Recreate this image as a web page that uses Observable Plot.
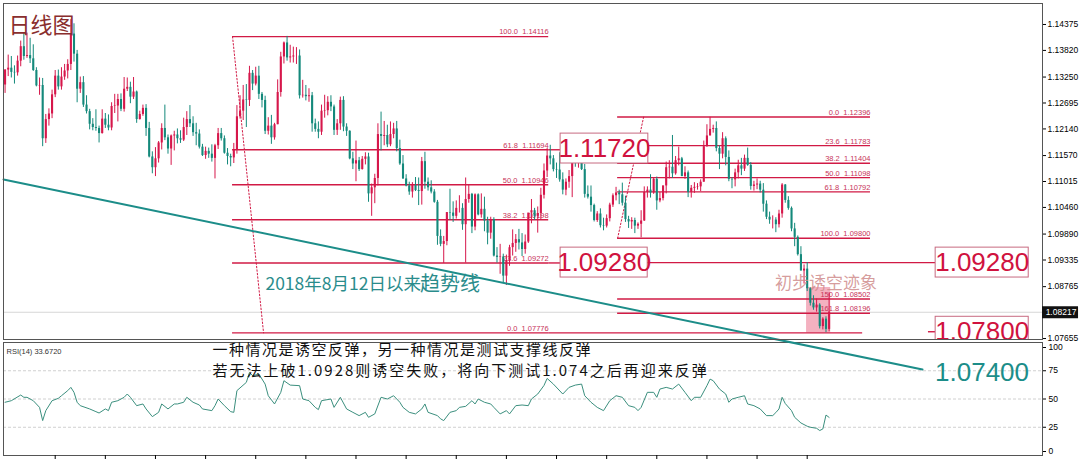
<!DOCTYPE html>
<html><head><meta charset="utf-8">
<script src="https://cdn.jsdelivr.net/npm/d3@7"></script>
<script src="https://cdn.jsdelivr.net/npm/@observablehq/plot@0.6"></script>
<style>
body{margin:0;background:#fff;}
#wrap{position:relative;width:1080px;height:459px;overflow:hidden;background:#fff;}
#wrap svg{position:absolute;left:0;}
</style></head><body><div id="wrap"></div>
<script>
// EUR/USD daily bars, 2019-02-19 .. 2020-02-21 (bar index = trading day)
const open = [1.1308,1.1340,1.1344,1.1335,1.1334,1.1359,1.1390,1.1369,1.1371,1.1364,
1.1339,1.1306,1.1307,1.1193,1.1234,1.1246,1.1287,1.1327,1.1304,1.1325,
1.1338,1.1352,1.1417,1.1374,1.1299,1.1313,1.1265,1.1251,1.1224,1.1217,
1.1215,1.1204,1.1235,1.1222,1.1216,1.1262,1.1263,1.1277,1.1256,1.1299,
1.1303,1.1282,1.1293,1.1234,1.1245,1.1258,1.1215,1.1154,1.1131,1.1150,
1.1184,1.1215,1.1195,1.1171,1.1199,1.1201,1.1193,1.1190,1.1217,1.1234,
1.1225,1.1206,1.1203,1.1175,1.1157,1.1166,1.1160,1.1151,1.1178,1.1204,
1.1193,1.1162,1.1155,1.1152,1.1168,1.1240,1.1252,1.1276,1.1275,1.1333,
1.1310,1.1327,1.1288,1.1275,1.1209,1.1220,1.1195,1.1223,1.1292,1.1368,
1.1398,1.1366,1.1368,1.1370,1.1370,1.1285,1.1286,1.1283,1.1285,1.1225,
1.1213,1.1207,1.1252,1.1253,1.1271,1.1261,1.1211,1.1225,1.1275,1.1218,
1.1209,1.1150,1.1139,1.1146,1.1127,1.1149,1.1154,1.1075,1.1088,1.1108,
1.1202,1.1198,1.1200,1.1180,1.1202,1.1214,1.1172,1.1139,1.1107,1.1092,
1.1079,1.1093,1.1082,1.1080,1.1144,1.1100,1.1088,1.1079,1.1057,1.0984,
1.0967,1.0973,1.1035,1.1034,1.1027,1.1044,1.1044,1.1009,1.1063,1.1074,
1.1004,1.1073,1.1030,1.1042,1.1017,1.0991,1.1020,1.0942,1.0939,1.0940,
1.0899,1.0932,1.0960,1.0969,1.0977,1.0970,1.0956,1.0972,1.1034,1.1039,
1.1027,1.1033,1.1072,1.1124,1.1156,1.1150,1.1127,1.1126,1.1105,1.1083,
1.1100,1.1112,1.1153,1.1149,1.1165,1.1127,1.1074,1.1068,1.1050,1.1018,
1.1032,1.1007,1.1006,1.1022,1.1051,1.1071,1.1077,1.1073,1.1055,1.1020,
1.1015,1.1018,1.1006,1.1010,1.1017,1.1078,1.1083,1.1077,1.1106,1.1060,
1.1065,1.1092,1.1131,1.1132,1.1118,1.1146,1.1150,1.1112,1.1120,1.1078,
1.1087,1.1089,1.1090,1.1100,1.1176,1.1199,1.1213,1.1215,1.1172,1.1160,
1.1193,1.1153,1.1106,1.1105,1.1120,1.1135,1.1128,1.1151,1.1136,1.1091,
1.1094,1.1096,1.1083,1.1053,1.1025,1.1019,1.1019,1.1009,1.1032,1.1094,
1.1061,1.1044,1.1000,1.0982,1.0945,1.0910,1.0914,1.0872,1.0841,1.0831,
1.0837,1.0791,1.0807,1.0785];
const high = [1.1341,1.1372,1.1369,1.1349,1.1370,1.1402,1.1420,1.1419,1.1408,1.1394,
1.1345,1.1323,1.1322,1.1245,1.1257,1.1297,1.1339,1.1340,1.1345,1.1352,
1.1362,1.1448,1.1439,1.1382,1.1325,1.1326,1.1285,1.1256,1.1236,1.1255,
1.1220,1.1255,1.1247,1.1244,1.1270,1.1288,1.1288,1.1289,1.1324,1.1323,
1.1314,1.1324,1.1295,1.1252,1.1265,1.1266,1.1228,1.1165,1.1174,1.1187,
1.1225,1.1265,1.1201,1.1201,1.1209,1.1214,1.1210,1.1237,1.1251,1.1264,
1.1240,1.1226,1.1212,1.1181,1.1175,1.1173,1.1180,1.1181,1.1215,1.1215,
1.1199,1.1172,1.1160,1.1183,1.1264,1.1285,1.1307,1.1309,1.1348,1.1339,
1.1346,1.1348,1.1292,1.1284,1.1238,1.1243,1.1226,1.1319,1.1378,1.1400,
1.1412,1.1393,1.1389,1.1388,1.1383,1.1318,1.1307,1.1300,1.1292,1.1235,
1.1229,1.1265,1.1286,1.1283,1.1285,1.1265,1.1234,1.1282,1.1283,1.1225,
1.1210,1.1164,1.1188,1.1153,1.1155,1.1163,1.1162,1.1096,1.1117,1.1225,
1.1250,1.1230,1.1222,1.1229,1.1226,1.1230,1.1190,1.1157,1.1116,1.1100,
1.1099,1.1110,1.1109,1.1153,1.1164,1.1109,1.1103,1.1084,1.1061,1.0998,
1.0984,1.1035,1.1085,1.1058,1.1060,1.1071,1.1054,1.1109,1.1095,1.1076,
1.1075,1.1075,1.1075,1.1068,1.1025,1.1025,1.1024,1.0960,1.0967,1.0946,
1.0944,1.0965,1.0998,1.0988,1.0999,1.0990,1.0987,1.1033,1.1063,1.1044,
1.1047,1.1087,1.1139,1.1172,1.1179,1.1157,1.1141,1.1163,1.1120,1.1107,
1.1125,1.1145,1.1168,1.1176,1.1175,1.1138,1.1092,1.1092,1.1053,1.1037,
1.1043,1.1023,1.1030,1.1055,1.1075,1.1089,1.1083,1.1098,1.1070,1.1027,
1.1024,1.1023,1.1013,1.1039,1.1090,1.1090,1.1116,1.1110,1.1111,1.1078,
1.1092,1.1143,1.1146,1.1200,1.1155,1.1175,1.1153,1.1133,1.1124,1.1093,
1.1099,1.1097,1.1105,1.1188,1.1223,1.1239,1.1222,1.1229,1.1178,1.1206,
1.1197,1.1167,1.1110,1.1128,1.1147,1.1151,1.1158,1.1173,1.1142,1.1102,
1.1107,1.1102,1.1097,1.1060,1.1036,1.1028,1.1024,1.1040,1.1097,1.1095,
1.1069,1.1047,1.1012,1.0985,1.0962,1.0923,1.0928,1.0874,1.0857,1.0850,
1.0840,1.0810,1.0812,1.0863];
const low = [1.1290,1.1326,1.1323,1.1310,1.1327,1.1347,1.1361,1.1365,1.1354,1.1337,
1.1304,1.1286,1.1176,1.1183,1.1220,1.1236,1.1281,1.1297,1.1297,1.1318,
1.1321,1.1339,1.1357,1.1270,1.1290,1.1260,1.1246,1.1212,1.1210,1.1209,
1.1184,1.1203,1.1215,1.1210,1.1210,1.1247,1.1229,1.1251,1.1250,1.1294,
1.1268,1.1277,1.1226,1.1233,1.1241,1.1198,1.1152,1.1118,1.1112,1.1141,
1.1169,1.1189,1.1160,1.1136,1.1167,1.1182,1.1183,1.1187,1.1200,1.1217,
1.1198,1.1178,1.1171,1.1155,1.1149,1.1151,1.1143,1.1107,1.1170,1.1188,
1.1160,1.1137,1.1133,1.1140,1.1160,1.1235,1.1232,1.1217,1.1262,1.1296,
1.1306,1.1277,1.1259,1.1202,1.1201,1.1181,1.1190,1.1223,1.1282,1.1353,
1.1359,1.1355,1.1355,1.1352,1.1278,1.1280,1.1274,1.1271,1.1207,1.1207,
1.1193,1.1200,1.1237,1.1242,1.1251,1.1200,1.1200,1.1211,1.1208,1.1198,
1.1148,1.1127,1.1101,1.1123,1.1126,1.1137,1.1057,1.1027,1.1054,1.1092,
1.1167,1.1178,1.1174,1.1176,1.1193,1.1165,1.1136,1.1106,1.1090,1.1072,
1.1066,1.1080,1.1050,1.1051,1.1085,1.1081,1.1075,1.1055,1.0965,1.0962,
1.0926,1.0964,1.1018,1.1014,1.1021,1.1034,1.0997,1.0927,1.1055,1.0990,
1.0996,1.1028,1.1023,1.0994,1.0966,1.0978,1.0940,1.0927,1.0903,1.0885,
1.0879,1.0920,1.0942,1.0950,1.0955,1.0941,1.0946,1.0969,1.1011,1.1018,
1.0991,1.1020,1.1064,1.1110,1.1137,1.1122,1.1108,1.1100,1.1073,1.1071,
1.1087,1.1067,1.1132,1.1130,1.1125,1.1066,1.1064,1.1036,1.1015,1.1014,
1.1002,1.0996,1.1002,1.1015,1.1046,1.1060,1.1052,1.1049,1.1014,1.1001,
1.0999,1.0990,1.0999,1.0981,1.1016,1.1066,1.1066,1.1074,1.1040,1.1056,
1.1060,1.1075,1.1107,1.1108,1.1115,1.1135,1.1112,1.1106,1.1067,1.1066,
1.1076,1.1083,1.1080,1.1100,1.1175,1.1199,1.1205,1.1165,1.1127,1.1150,
1.1135,1.1101,1.1086,1.1090,1.1107,1.1114,1.1123,1.1134,1.1083,1.1081,
1.1084,1.1077,1.1036,1.1020,1.1010,1.1000,1.0992,1.1002,1.1023,1.1055,
1.1040,1.0994,1.0962,1.0942,1.0910,1.0882,1.0866,1.0835,1.0826,1.0822,
1.0786,1.0784,1.0778,1.0780];
const close = [1.1340,1.1344,1.1335,1.1334,1.1359,1.1390,1.1369,1.1371,1.1364,1.1339,
1.1306,1.1307,1.1193,1.1234,1.1246,1.1287,1.1327,1.1304,1.1325,1.1338,
1.1352,1.1417,1.1374,1.1299,1.1313,1.1265,1.1251,1.1224,1.1217,1.1215,
1.1204,1.1235,1.1222,1.1216,1.1262,1.1263,1.1277,1.1256,1.1299,1.1303,
1.1282,1.1293,1.1234,1.1245,1.1258,1.1215,1.1154,1.1131,1.1150,1.1184,
1.1215,1.1195,1.1171,1.1199,1.1201,1.1193,1.1190,1.1217,1.1234,1.1225,
1.1206,1.1203,1.1175,1.1157,1.1166,1.1160,1.1151,1.1178,1.1204,1.1193,
1.1162,1.1155,1.1152,1.1168,1.1240,1.1252,1.1276,1.1275,1.1333,1.1310,
1.1327,1.1288,1.1275,1.1209,1.1220,1.1195,1.1223,1.1292,1.1368,1.1398,
1.1366,1.1368,1.1370,1.1370,1.1285,1.1286,1.1283,1.1285,1.1225,1.1213,
1.1207,1.1252,1.1253,1.1271,1.1261,1.1211,1.1225,1.1275,1.1218,1.1209,
1.1150,1.1139,1.1146,1.1127,1.1149,1.1154,1.1075,1.1088,1.1108,1.1202,
1.1198,1.1200,1.1180,1.1202,1.1214,1.1172,1.1139,1.1107,1.1092,1.1079,
1.1093,1.1082,1.1080,1.1144,1.1100,1.1088,1.1079,1.1057,1.0984,1.0967,
1.0973,1.1035,1.1034,1.1027,1.1044,1.1044,1.1009,1.1063,1.1074,1.1004,
1.1073,1.1030,1.1042,1.1017,1.0991,1.1020,1.0942,1.0939,1.0940,1.0899,
1.0932,1.0960,1.0969,1.0977,1.0970,1.0956,1.0972,1.1034,1.1039,1.1027,
1.1033,1.1072,1.1124,1.1156,1.1150,1.1127,1.1126,1.1105,1.1083,1.1100,
1.1112,1.1153,1.1149,1.1165,1.1127,1.1074,1.1068,1.1050,1.1018,1.1032,
1.1007,1.1006,1.1022,1.1051,1.1071,1.1077,1.1073,1.1055,1.1020,1.1015,
1.1018,1.1006,1.1010,1.1017,1.1078,1.1083,1.1077,1.1106,1.1060,1.1065,
1.1092,1.1131,1.1132,1.1118,1.1146,1.1150,1.1112,1.1120,1.1078,1.1087,
1.1089,1.1090,1.1100,1.1176,1.1199,1.1213,1.1215,1.1172,1.1160,1.1193,
1.1153,1.1106,1.1105,1.1120,1.1135,1.1128,1.1151,1.1136,1.1091,1.1094,
1.1096,1.1083,1.1053,1.1025,1.1019,1.1019,1.1009,1.1032,1.1094,1.1061,
1.1044,1.1000,1.0982,1.0945,1.0910,1.0914,1.0872,1.0841,1.0831,1.0837,
1.0791,1.0807,1.0785,1.0822];

// RSI(14) (bar index, value)
const rsiBar = [0,2,5,6,7,9,11,12,13,15,17,18,20,21,22,23,24,27,29,30,32,33,34,36,38,39,40,42,44,45,47,49,50,52,54,55,57,58,60,62,63,66,67,68,70,72,73,74,77,78,79,81,83,84,86,88,89,91,94,95,97,99,100,101,104,105,107,109,111,113,115,116,118,120,122,124,126,127,129,131,133,134,135,138,139,140,142,144,145,147,149,150,151,153,155,156,158,160,161,163,165,167,168,170,172,173,175,178,180,182,184,185,187,189,191,193,195,197,199,201,202,203,205,207,208,209,211,213,215,217,219,220,222,224,225,226,228,230,231,232,234,236,237,239,241,243,245,246,247,248,249,251,252,254,256,257,259,260,261,262,263];
const rsiValue = [47.1,48.5,53.5,51.5,51.5,48.5,42.6,30.9,39.7,48.5,50.6,52.9,57.4,60.3,55.9,47.1,44.1,41.2,38.8,37.6,41.2,39.7,47.1,48.5,51.5,54.4,51.5,44.1,45.6,41.2,34.4,38.2,45.6,41.2,45.6,45.6,47.1,51.5,47.1,44.7,41.2,39.7,44.1,50,44.1,38.8,38.2,57.4,64.7,73.5,70.6,72.1,63.2,52.9,45.6,55.9,66.2,62.3,61.8,50,48.5,42.6,40.6,48.5,50,42.6,51.5,41.2,38.2,35.3,38.2,33.8,36.8,51.5,50,52.9,47.1,42.6,38.2,36.8,41.2,45.6,38.2,35.3,32.4,30.9,38.2,39.7,42.6,43.5,48.5,45.6,50,47.1,45.6,42.6,36.8,39.7,36.8,44.1,44.7,44.1,50,54.4,62,68.2,63.2,54.4,60.3,62.3,63.2,52.9,47.1,42.6,39.7,48.5,52.9,51.5,44.1,42.6,39.7,42.6,55.9,55.9,51.5,58.8,60.3,58.8,63.2,55.9,48.5,51.5,51.5,61.8,67.6,66.2,58.8,54.4,47.1,50,51.5,52.9,45.6,44.1,41.2,35.3,35.3,38,41.2,51.5,46,39.7,33.8,28.8,25.9,25,24.1,22.1,23.5,35.8,33.7];

const priceTicks = [1.14375,1.13820,1.13250,1.12695,1.12140,1.11570,1.11015,1.10460,1.09890,1.09335,1.08765,1.07655];
const rsiTicksMid = [25,50,75];
const rsiTickTop = [100];
const rsiTickBottom = [0];
const rsiGuides = [25,50,75];
const timeTickBars = [16,32,48,64,80,96,112,128,144,160,176,192,208,224,240,256];
const lastPrice = 1.08217;
const rsiLast = "33.6720";

const fib1Levels = [0,23.6,38.2,50,61.8,100];
const fib1Prices = [1.07776,1.09272,1.10198,1.10946,1.11694,1.14116];
const fib2Levels = [0,23.6,38.2,50,61.8,100,150,161.8];
const fib2Prices = [1.12396,1.11783,1.11404,1.11098,1.10792,1.09800,1.08502,1.08196];
const keyLevelTexts = ["1.11720","1.09280","1.09280","1.07800"];
const keyLevelPrices = [1.11720,1.09280,1.09280,1.07800];
const trendBars = [-0.5,292.8];
const trendPrices = [1.1106,1.0699];
const trendTargetText = "1.07400";
const note1 = "一种情况是诱空反弹，另一种情况是测试支撑线反弹";
const note2 = "若无法上破1.0928则诱空失败，将向下测试1.074之后再迎来反弹";

// ---- annotation placement (bar units) ----
const F1 = {from:72.6, to:173.5, boxEdge:177.3, diagTop:72.6, diagBot:82.5};
const F2 = {from:195.5, to:276.2, diagLow:195.5, diagHigh:203.8};
const boxX = [[177.3,205.3],[177.3,205.1],[297,326.7],[297,326.7]];
const boxHalf = 0.0032;

const bull = "#d6174b", bear = "#14897b", red = "#d11a45", teal = "#1c8d89";
const cjk = "Noto Sans CJK SC, sans-serif";

const candles = close.map((c,i)=>({i, o:open[i], h:high[i], l:low[i], c}));
const fib1 = fib1Levels.map((l,k)=>({l, p:fib1Prices[k]}));
const fib2 = fib2Levels.map((l,k)=>({l, p:fib2Prices[k]}));
const boxes = keyLevelTexts.map((t,k)=>({t, p:keyLevelPrices[k], b1:boxX[k][0], b2:boxX[k][1]}));
const boxesOpen = boxes.slice(0,3), boxesClip = boxes.slice(3);
const trend = trendBars.map((b,k)=>({b, p:trendPrices[k]}));
const rsi = rsiBar.map((b,k)=>({b, v:rsiValue[k]}));
const fibLabel = d => d.l.toFixed(1)+"\u00a0\u00a0"+d.p.toFixed(5);

const xDomain = [-0.5, 331.1];

const rsiPlot = Plot.plot({
  width:1080, height:120, marginLeft:3, marginRight:38, marginTop:3, marginBottom:4,
  x:{domain:xDomain, axis:null}, y:{domain:[0,100], axis:null},
  style:{background:"transparent", overflow:"visible", fontFamily:"Liberation Sans, Arial, sans-serif"},
  marks:[
    Plot.ruleY(rsiGuides, {stroke:"#c4c4c4", strokeDasharray:"3,2", strokeWidth:0.8}),
    Plot.line(rsi, {x:"b", y:"v", stroke:"#3b8f7e", strokeWidth:1}),
    Plot.frame({stroke:"#555"}),
    Plot.axisY(rsiTicksMid, {anchor:"right", tickSize:3, tickPadding:3, fontSize:8.5, label:null}),
    Plot.axisY(rsiTickTop, {anchor:"right", tickSize:3, tickPadding:3, fontSize:8.5, label:null, dy:5}),
    Plot.axisY(rsiTickBottom, {anchor:"right", tickSize:3, tickPadding:3, fontSize:8.5, label:null, dy:-4}),
    Plot.axisX(timeTickBars, {anchor:"bottom", tickSize:4, tickFormat:()=>"", tickPadding:0, label:null}),
    Plot.text(["RSI(14) "+rsiLast], {frameAnchor:"top-left", dx:3, dy:6, fontSize:7.5, fill:"#333"})
  ]
});
rsiPlot.style.top = "339px";

const main = Plot.plot({
  width:1080, height:459, marginLeft:3, marginRight:38, marginTop:3, marginBottom:120,
  x:{domain:xDomain, axis:null}, y:{domain:[1.07634,1.14824], axis:null},
  style:{background:"transparent", overflow:"visible", fontFamily:"Liberation Sans, Arial, sans-serif"},
  marks:[
    Plot.ruleY([lastPrice], {stroke:"#d6d6d6", strokeWidth:1}),
    // highlight zone
    Plot.rect([0], {x1:255.8, x2:263.5, y1:1.07776, y2:1.08747, fill:"#f19db0", fillOpacity:0.8}),
    // fib 1
    Plot.ruleY(fib1, {y:"p", x1:F1.from, x2:F1.to, stroke:red, strokeWidth:1.4}),
    Plot.text(fib1, {x:F1.to, y:"p", text:fibLabel, textAnchor:"end", dy:-4.5, fontSize:7.5, fill:"#c7345a"}),
    Plot.line([{b:F1.diagTop, p:fib1Prices[5]},{b:F1.diagBot, p:fib1Prices[0]}], {x:"b", y:"p", stroke:red, strokeWidth:1, strokeDasharray:"1.5,2"}),
    // fib 2
    Plot.ruleY(fib2, {y:"p", x1:F2.from, x2:F2.to, stroke:red, strokeWidth:1.4}),
    Plot.text(fib2, {x:F2.to, y:"p", text:fibLabel, textAnchor:"end", dy:-4.5, fontSize:7.5, fill:"#c7345a"}),
    Plot.line([{b:F2.diagLow, p:fib2Prices[5]},{b:F2.diagHigh, p:fib2Prices[0]}], {x:"b", y:"p", stroke:red, strokeWidth:1, strokeDasharray:"1.5,2"}),
    // extended key lines
    Plot.ruleY([fib1Prices[1], fib1Prices[4]], {x1:F1.to, x2:F1.boxEdge, stroke:red, strokeWidth:1.4}),
    Plot.ruleY([fib1Prices[0]], {x1:F1.to, x2:273.7, stroke:red, strokeWidth:1.4}),
    Plot.ruleY([keyLevelPrices[1]], {x1:205.1, x2:297, stroke:red, strokeWidth:1.4}),
    Plot.ruleY([keyLevelPrices[3]], {x1:294.7, x2:297, stroke:red, strokeWidth:1.4}),
    // candles
    Plot.ruleX(candles, {x:"i", y1:"l", y2:"h", stroke:d=>d.c>=d.o?bull:bear, strokeWidth:1}),
    Plot.ruleX(candles, {x:"i", y1:"o", y2:"c", stroke:d=>d.c>=d.o?bull:bear, strokeWidth:2.1}),
    // trend line
    Plot.line(trend, {x:"b", y:"p", stroke:teal, strokeWidth:2}),
    // key level boxes
    Plot.rect(boxesOpen, {x1:"b1", x2:"b2", y1:d=>d.p-boxHalf, y2:d=>d.p+boxHalf, fill:"white", stroke:"#c76a80", strokeWidth:1}),
    Plot.text(boxesOpen, {x:d=>(d.b1+d.b2)/2, y:"p", text:"t", fontSize:26, fill:"#d0123e"}),
    Plot.rect(boxesClip, {x1:"b1", x2:"b2", y1:d=>d.p-boxHalf, y2:d=>d.p+boxHalf, fill:"white", stroke:"#c76a80", strokeWidth:1, clip:true}),
    Plot.text(boxesClip, {x:d=>(d.b1+d.b2)/2, y:"p", text:"t", fontSize:26, fill:"#d0123e", clip:true}),
    // annotations
    Plot.text(["初步诱空迹象"], {x:262, y:1.08833, fontSize:17, fill:"#cf8c8c", fillOpacity:0.85, fontFamily:cjk}),
    Plot.text(["2018年8月12日以来"], {x:83.1, y:1.0882, textAnchor:"start", fontSize:17.5, fill:"#2a8c8c", fontFamily:cjk}),
    Plot.text(["趋势线"], {x:132.4, y:1.0880, textAnchor:"start", fontSize:20, fill:"#2a8c8c", fontFamily:cjk}),
    Plot.text([note1], {x:66.2, y:1.07400, textAnchor:"start", fontSize:15, fill:"#111", fontFamily:cjk}),
    Plot.text([note2], {x:66.2, y:1.06950, textAnchor:"start", fontSize:15, fill:"#111", fontFamily:cjk}),
    Plot.text([trendTargetText], {x:311.8, y:1.06928, fontSize:26, fill:teal}),
    Plot.text(["日线图"], {frameAnchor:"top-left", dx:5, dy:14, textAnchor:"start", fontSize:22, fill:"#8a2e2e", fontFamily:cjk}),
    // frame & axis
    Plot.frame({stroke:"#555"}),
    Plot.axisY(priceTicks, {anchor:"right", tickSize:3, tickPadding:2, tickFormat:d=>d.toFixed(5), fontSize:8.5, label:null}),
    Plot.ruleY([lastPrice], {x1:xDomain[1], x2:342.6, stroke:"#111", strokeWidth:12}),
    Plot.text([lastPrice], {x:337, y:d=>d, text:d=>d.toFixed(5), fill:"white", fontSize:8.5})
  ]
});
main.style.top = "0px";

// widen the two note lines (letter spacing) to match the reference text width
d3.select(main).selectAll("text").each(function(){
  const t = this.textContent;
  if (t === note1) this.style.letterSpacing = "1.5px";
  if (t === note2) this.style.letterSpacing = "2px";
});

const wrap = document.getElementById("wrap");
wrap.appendChild(rsiPlot);
wrap.appendChild(main);
</script></body></html>
